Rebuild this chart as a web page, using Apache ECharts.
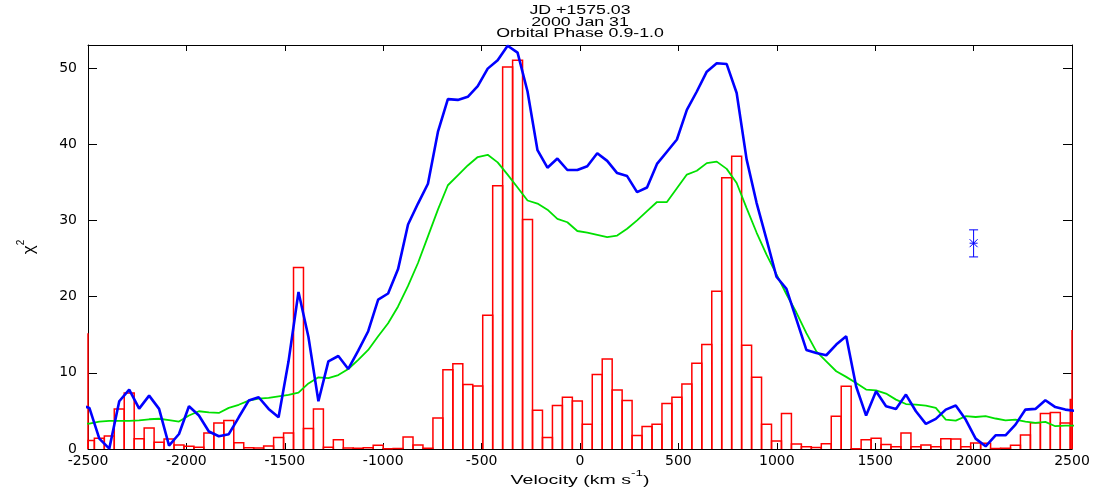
<!DOCTYPE html>
<html>
<head>
<meta charset="utf-8">
<script src="https://cdn.jsdelivr.net/npm/echarts@6/dist/echarts.min.js"></script>
<style>
html,body{margin:0;padding:0;background:#fff;}
#chart{width:1103px;height:490px;}
</style>
</head>
<body>
<div id="chart"></div>
<script>
// ---------------- data ----------------
const TITLE_LINES = ['JD +1575.03', '2000 Jan 31', 'Orbital Phase 0.9-1.0'];
const X_LABEL = 'Velocity (km s';
const X_LABEL_SUP = '-1';
const Y_LABEL = 'χ';
const Y_LABEL_SUP = '2';
const X_MIN = -2500, X_MAX = 2500, X_INTERVAL = 500;
const Y_MIN = 0, Y_MAX = 53;
const Y_TICKS = [0, 10, 20, 30, 40, 50];

// velocity bins (centres) : first centre and step, km/s
const V_START = -2543.6;
const V_STEP = 50.6;

// red histogram (one value per bin, starting at V_START)
const histValues = [
  15.2, 1.1, 1.4, 1.7, 5.26, 7.36, 1.36, 2.77, 0.88, 1.3,
  0.54, 0.36, 0.23, 2.1, 3.42, 3.73, 0.83, 0.18, 0.13, 0.39,
  1.5, 2.1, 23.8, 2.7, 5.26, 0.23, 1.2, 0.13, 0.1, 0.15,
  0.5, 0.02, 0.05, 1.56, 0.54, 0.1, 4.08, 10.4, 11.2, 8.45,
  8.28, 17.55, 34.55, 50.1, 51.0, 30.1, 5.08, 1.5, 5.7, 6.79,
  6.3, 3.24, 9.76, 11.8, 7.75, 6.35, 1.76, 2.94, 3.24, 5.96,
  6.79, 8.54, 11.25, 13.7, 20.7, 35.6, 38.4, 13.6, 9.4, 3.24,
  1.06, 4.65, 0.67, 0.28, 0.2, 0.7, 4.3, 8.23, 0.02, 1.2,
  1.4, 0.6, 0.3, 2.1, 0.28, 0.54, 0.28, 1.36, 1.3, 0.28,
  0.8, 0.75, 0.05, 0.1, 0.5, 1.85, 3.46, 4.65, 4.78, 3.42,
  6.5, 15.6
];

// blue curve (same bins)
const blueValues = [
  5.8, 5.39, 1.36, 0.05, 6.26, 7.8, 5.3, 7.0, 5.26, 0.44,
  1.97, 5.6, 4.4, 2.3, 1.67, 1.94, 4.16, 6.35, 6.79, 5.26,
  4.16, 11.5, 20.6, 14.7, 6.26, 11.5, 12.2, 10.5, 12.9, 15.45,
  19.6, 20.4, 23.6, 29.45, 32.2, 34.8, 41.6, 45.9, 45.8, 46.2,
  47.6, 49.9, 51.0, 52.9, 52.0, 46.9, 39.2, 36.9, 38.1, 36.6,
  36.6, 37.1, 38.8, 37.8, 36.2, 35.8, 33.7, 34.3, 37.4, 39.0,
  40.6, 44.5, 46.9, 49.5, 50.6, 50.5, 46.7, 38.0, 32.3, 27.5,
  22.6, 21.0, 17.0, 13.0, 12.6, 12.3, 13.7, 14.8, 8.2, 4.38,
  7.57, 5.6, 5.26, 7.14, 4.95, 3.29, 3.95, 5.17, 5.7, 3.86,
  1.36, 0.36, 1.8, 1.8, 3.2, 5.17, 5.26, 6.4, 5.5, 5.17,
  5.0
];

// green curve (same bins)
const greenValues = [
  3.3, 3.33, 3.6, 3.7, 3.7, 3.7, 3.75, 3.9, 3.97, 3.8,
  3.6, 4.4, 4.95, 4.8, 4.73, 5.4, 5.8, 6.35, 6.6, 6.7,
  6.9, 7.1, 7.4, 8.6, 9.4, 9.3, 9.7, 10.5, 11.7, 13.0,
  14.8, 16.5, 18.7, 21.4, 24.4, 27.9, 31.4, 34.6, 35.9, 37.2,
  38.3, 38.6, 37.6, 36.0, 34.3, 32.6, 32.2, 31.4, 30.2, 29.75,
  28.6, 28.4, 28.1, 27.8, 28.0, 28.9, 30.0, 31.2, 32.4, 32.4,
  34.2, 36.0, 36.5, 37.5, 37.7, 36.75, 34.9, 31.6, 28.4, 25.5,
  22.9, 20.3, 17.9, 15.2, 12.8, 11.5, 10.2, 9.46, 8.67, 7.8,
  7.7, 7.27, 6.48, 5.9, 5.82, 5.7, 5.39, 3.86, 3.73, 4.3,
  4.2, 4.3, 4.0, 3.76, 3.86, 3.6, 3.42, 3.55, 2.99, 3.07,
  3.07
];

// single point with error bar: [velocity, value, low, high]
const errorPoint = [2000, 27.0, 25.2, 28.75];

// ---------------- build ----------------
const binCentre = i => V_START + i * V_STEP;
const histData = histValues.map((v, i) => [binCentre(i), v]);
const blueData = blueValues.map((v, i) => [binCentre(i), v]);
const greenData = greenValues.map((v, i) => [binCentre(i), v]);

const FONT_TICK = 'DejaVu Sans';
const FONT_TEXT = 'Liberation Sans';
const STRETCH = 1.42;

const chart = echarts.init(document.getElementById('chart'), null, {renderer: 'canvas'});

const axisLineStyle = {show: true, onZero: false, lineStyle: {color: '#000', width: 1}};
const plainNumber = v => String(v);

const option = {
  animation: false,
  backgroundColor: '#fff',
  grid: {left: 88, right: 31, top: 45, bottom: 41, containLabel: false},
  xAxis: [
    {
      type: 'value', min: X_MIN, max: X_MAX, interval: X_INTERVAL, position: 'bottom',
      axisLine: axisLineStyle,
      axisTick: {show: true, inside: true, length: 6, lineStyle: {color: '#000', width: 1}},
      axisLabel: {color: '#000', fontFamily: FONT_TICK, fontSize: 14, margin: 5, formatter: plainNumber},
      splitLine: {show: false}
    },
    {
      type: 'value', min: X_MIN, max: X_MAX, interval: X_INTERVAL, position: 'top',
      axisLine: axisLineStyle,
      axisTick: {show: true, inside: true, length: 6, lineStyle: {color: '#000', width: 1}},
      axisLabel: {show: false},
      splitLine: {show: false}
    }
  ],
  yAxis: [
    {
      type: 'value', min: Y_MIN, max: Y_MAX, interval: 10, position: 'left',
      axisLine: axisLineStyle,
      axisTick: {show: true, inside: true, length: 9, customValues: Y_TICKS, lineStyle: {color: '#000', width: 1}},
      axisLabel: {color: '#000', fontFamily: FONT_TICK, fontSize: 14, margin: 11, customValues: Y_TICKS, formatter: plainNumber},
      splitLine: {show: false}
    },
    {
      type: 'value', min: Y_MIN, max: Y_MAX, interval: 10, position: 'right',
      axisLine: axisLineStyle,
      axisTick: {show: true, inside: true, length: 9, customValues: Y_TICKS, lineStyle: {color: '#000', width: 1}},
      axisLabel: {show: false},
      splitLine: {show: false}
    }
  ],
  graphic: [
    ...TITLE_LINES.map((t, i) => ({
      type: 'text', x: 580, y: 11 + i * 11.4, scaleX: STRETCH, silent: true,
      style: {text: t, fontFamily: FONT_TEXT, fontSize: 12.5, fill: '#000', align: 'center', verticalAlign: 'middle'}
    })),
    {
      type: 'text', x: 580, y: 478, scaleX: 1.5, silent: true,
      style: {
        text: '{a|' + X_LABEL + '}{s|' + X_LABEL_SUP + '}{a|)}',
        align: 'center', verticalAlign: 'middle',
        rich: {
          a: {fontFamily: FONT_TEXT, fontSize: 13, fill: '#000', lineHeight: 18, verticalAlign: 'bottom'},
          s: {fontFamily: FONT_TEXT, fontSize: 9, fill: '#000', lineHeight: 18, verticalAlign: 'top'}
        }
      }
    },
    {
      type: 'text', x: 27, y: 247, rotation: Math.PI / 2, silent: true,
      style: {
        text: '{a|' + Y_LABEL + '}{s|' + Y_LABEL_SUP + '}',
        align: 'center', verticalAlign: 'middle',
        rich: {
          a: {fontFamily: FONT_TEXT, fontSize: 17, fill: '#000', lineHeight: 22, verticalAlign: 'bottom'},
          s: {fontFamily: FONT_TEXT, fontSize: 10, fill: '#000', lineHeight: 22, verticalAlign: 'top'}
        }
      }
    }
  ],
  series: [
    {
      name: 'histogram', type: 'custom', xAxisIndex: 0, yAxisIndex: 0, clip: false,
      data: histData, encode: {x: 0, y: 1}, z: 2,
      renderItem: function (params, api) {
        const v = api.value(0), h = api.value(1);
        const cs = params.coordSys;
        const pL = api.coord([v - V_STEP / 2, 0]);
        const pR = api.coord([v + V_STEP / 2, h]);
        const lo = cs.x, hi = cs.x + cs.width;
        const xl = Math.min(Math.max(pL[0], lo), hi);
        const xr = Math.min(Math.max(pR[0], lo), hi);
        return {
          type: 'polyline', silent: true,
          shape: {points: [[xl, pL[1]], [xl, pR[1]], [xr, pR[1]], [xr, pL[1]]]},
          style: {stroke: '#ff0000', fill: null, lineWidth: 1.5}
        };
      }
    },
    {
      name: 'green', type: 'line', xAxisIndex: 0, yAxisIndex: 0, data: greenData,
      showSymbol: false, symbol: 'none', z: 3,
      lineStyle: {color: '#00e000', width: 1.8}
    },
    {
      name: 'blue', type: 'line', xAxisIndex: 0, yAxisIndex: 0, data: blueData,
      showSymbol: false, symbol: 'none', z: 4,
      lineStyle: {color: '#0000ff', width: 2.6}
    },
    {
      name: 'errorbar', type: 'custom', xAxisIndex: 0, yAxisIndex: 0, clip: false,
      data: [errorPoint], encode: {x: 0, y: 1}, z: 5,
      renderItem: function (params, api) {
        const c = api.coord([api.value(0), api.value(1)]);
        const lo = api.coord([api.value(0), api.value(2)]);
        const hi = api.coord([api.value(0), api.value(3)]);
        const cap = 4.5, s = 4;
        const st = {stroke: '#0000ff', lineWidth: 1};
        const ln = (x1, y1, x2, y2) => ({type: 'line', shape: {x1, y1, x2, y2}, style: st, silent: true});
        return {
          type: 'group',
          children: [
            ln(lo[0], lo[1], hi[0], hi[1]),
            ln(lo[0] - cap, lo[1], lo[0] + cap, lo[1]),
            ln(hi[0] - cap, hi[1], hi[0] + cap, hi[1]),
            ln(c[0] - s, c[1], c[0] + s, c[1]),
            ln(c[0] - s, c[1] - s, c[0] + s, c[1] + s),
            ln(c[0] - s, c[1] + s, c[0] + s, c[1] - s)
          ]
        };
      }
    }
  ]
};

chart.setOption(option);
</script>
</body>
</html>
